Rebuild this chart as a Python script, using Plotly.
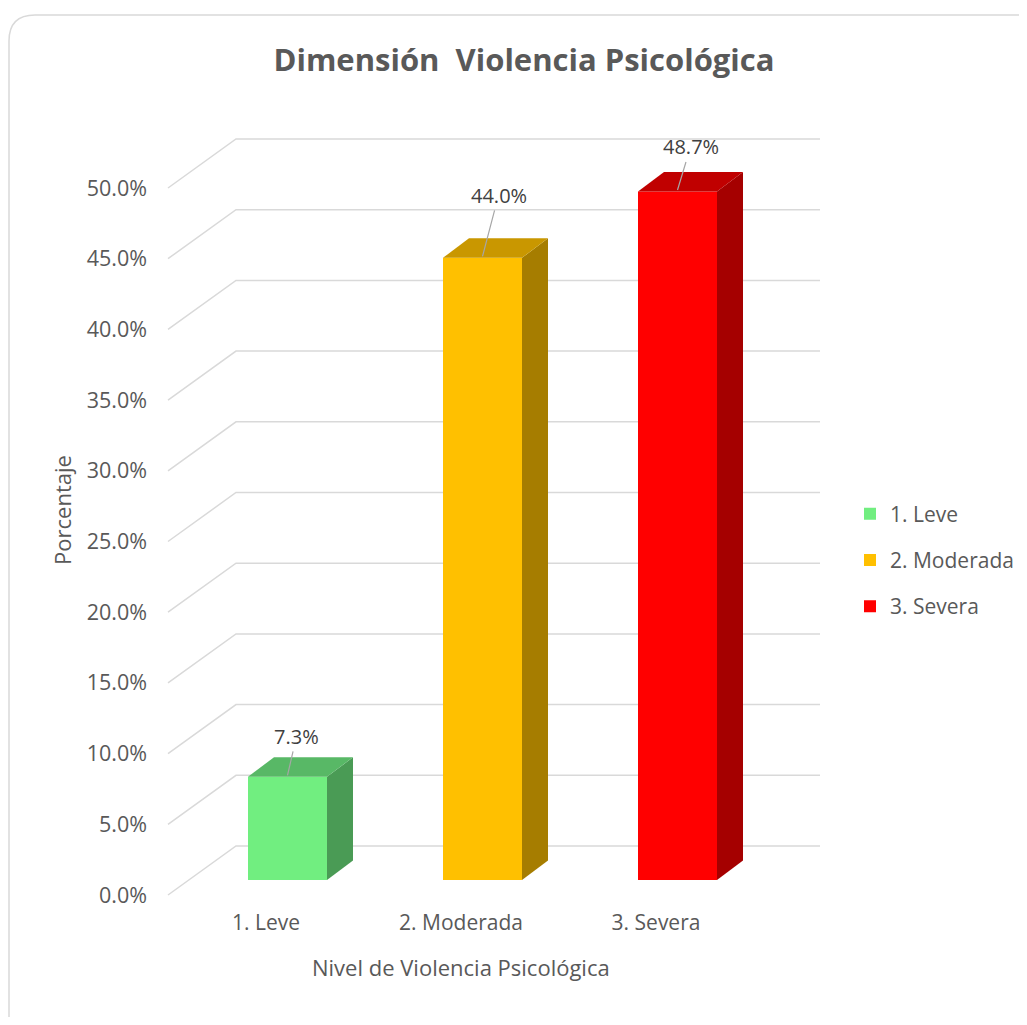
import plotly.graph_objects as go

# data
niveles = ['1. Leve', '2. Moderada', '3. Severa']
porcentajes = [7.3, 44.0, 48.7]
etiquetas = ['7.3%', '44.0%', '48.7%']
y_ticks = [0, 5, 10, 15, 20, 25, 30, 35, 40, 45, 50]

# colours: front / side / top
front_colors = ['#71EE80', '#FFC000', '#FF0000']
side_colors = ['#4A9B55', '#A67D00', '#A50000']
top_colors = ['#58B866', '#C99700', '#C00000']

GRID = '#D9D9D9'
TXT = '#595959'
FONT = 'Open Sans'

# page body has an 8px margin, so work in figure px = screen px - 8
OFF = 8
W, H = 1027 - OFF, 1025 - 2 * OFF

# pseudo-3D geometry (x in category units, y in % of the front plane)
PX_X = 195.0           # px per category
PX_Y = 14.14           # px per percent
BAR_SHIFT = 21.5 / PX_X
BAR_W = 79 / PX_X
BAR_BASE = 15 / PX_Y
DX = 26 / PX_X
DY = 19.5 / PX_Y
WALL_DX = 68 / PX_X
WALL_DY = 49 / PX_Y
GRID_X0 = -98 / PX_X
GRID_X1 = 554 / PX_X

# plot area in screen px
L, R, T, B = 160, 830, 120, 900
x_range = [(L - 266) / PX_X, (R - 266) / PX_X]
y_range = [-(B - 895) / PX_Y, (895 - T) / PX_Y]

fig = go.Figure()

# back-wall gridlines (drawn below the bars)
for v in y_ticks:
    fig.add_shape(type='path', xref='x', yref='y', layer='below',
                  path=f'M{GRID_X0},{v} L{GRID_X0 + WALL_DX},{v + WALL_DY} L{GRID_X1},{v + WALL_DY}',
                  line=dict(color=GRID, width=1.5))

for i, (name, val) in enumerate(zip(niveles, porcentajes)):
    xc = i + BAR_SHIFT
    xl, xr = xc - BAR_W / 2, xc + BAR_W / 2
    top = BAR_BASE + val
    # front face
    fig.add_trace(go.Bar(
        x=[xc], y=[val], base=[BAR_BASE], width=[BAR_W],
        name=name, legendgroup=name,
        marker=dict(color=front_colors[i], line=dict(width=0)),
        hoverinfo='skip'
    ))
    # side face
    fig.add_trace(go.Scatter(
        x=[xr, xr + DX, xr + DX, xr, xr],
        y=[BAR_BASE, BAR_BASE + DY, top + DY, top, BAR_BASE],
        fill='toself', fillcolor=side_colors[i], mode='lines',
        line=dict(width=0, color=side_colors[i]), showlegend=False, hoverinfo='skip'
    ))
    # top face
    fig.add_trace(go.Scatter(
        x=[xl, xl + DX, xr + DX, xr, xl],
        y=[top, top + DY, top + DY, top, top],
        fill='toself', fillcolor=top_colors[i], mode='lines',
        line=dict(width=0, color=top_colors[i]), showlegend=False, hoverinfo='skip'
    ))

# data labels with leader lines
label_offsets = [(9, -39), (16, -61), (13, -43)]
for i, val in enumerate(porcentajes):
    ax, ay = label_offsets[i]
    fig.add_annotation(
        x=i + BAR_SHIFT, y=BAR_BASE + val + 0.1, text=etiquetas[i],
        showarrow=True, arrowhead=0, arrowwidth=1.2, arrowcolor='#A6A6A6',
        ax=ax, ay=ay, font=dict(family=FONT, size=20, color='#404040')
    )

# x axis title, centred under middle category
fig.add_annotation(
    x=1, xref='x', y=(B - 967) / (B - T), yref='paper', yanchor='middle', showarrow=False,
    text='Nivel de Violencia Psicológica', font=dict(family=FONT, size=22, color=TXT)
)

# rounded chart border
def px(xp, yp):
    return f'{(xp - L) / (R - L)},{(B - yp) / (B - T)}'
r = 26
bx0, by0, bx1, by1 = 9, 15, 1045, 1045
border = (f'M{px(bx0, by1 - r)} L{px(bx0, by0 + r)} Q{px(bx0, by0)} {px(bx0 + r, by0)} '
          f'L{px(bx1 - r, by0)} Q{px(bx1, by0)} {px(bx1, by0 + r)} '
          f'L{px(bx1, by1 - r)} Q{px(bx1, by1)} {px(bx1 - r, by1)} '
          f'L{px(bx0 + r, by1)} Q{px(bx0, by1)} {px(bx0, by1 - r)} Z')
fig.add_shape(type='path', xref='paper', yref='paper', path=border,
              line=dict(color='#D9D9D9', width=1.5), layer='below')

fig.update_layout(
    width=W, height=H,
    margin=dict(l=L - OFF, r=W - (R - OFF), t=T - OFF, b=H - (B - OFF)),
    paper_bgcolor='white', plot_bgcolor='white',
    title=dict(text='<b>Dimensión  Violencia Psicológica</b>', x=(524 - OFF) / W, xanchor='center',
               y=1 - (60 - OFF) / H, yanchor='middle', font=dict(family=FONT, size=31, color=TXT)),
    font=dict(family=FONT, color=TXT),
    barmode='overlay',
    showlegend=True,
    legend=dict(xref='container', x=(850 - OFF) / W, xanchor='left',
                y=(B - 560) / (B - T), yanchor='middle',
                font=dict(family=FONT, size=21, color=TXT), tracegroupgap=16,
                bgcolor='rgba(0,0,0,0)', borderwidth=0),
    xaxis=dict(range=x_range, tickvals=[0, 1, 2], ticktext=niveles, showgrid=False,
               zeroline=False, showline=False, ticks='', ticklabelstandoff=8,
               tickfont=dict(family=FONT, size=21, color=TXT), fixedrange=True),
    yaxis=dict(range=y_range, tickvals=y_ticks, ticktext=[f'{v:.1f}%' for v in y_ticks],
               showgrid=False, zeroline=False, showline=False, ticks='', ticklabelstandoff=12,
               tickfont=dict(family=FONT, size=21.5, color=TXT), fixedrange=True,
               title=dict(text='Porcentaje', font=dict(family=FONT, size=22, color=TXT), standoff=8)),
)

fig.write_html('out.html')
